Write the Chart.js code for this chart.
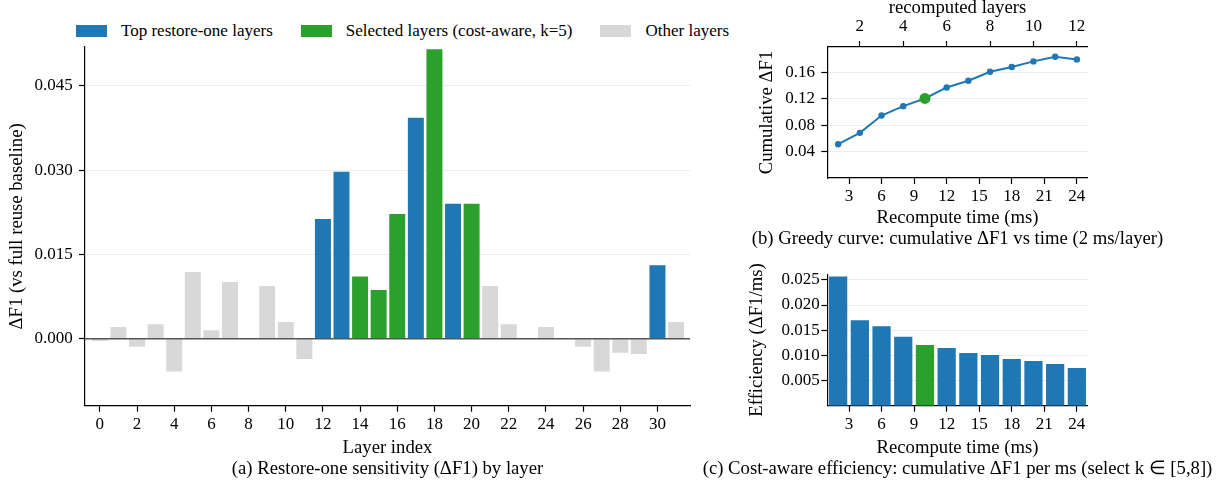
<!DOCTYPE html>
<html>
<head>
<meta charset="utf-8">
<script src="https://cdn.jsdelivr.net/npm/chart.js@4.4.1/dist/chart.umd.min.js"></script>
<style>
  body { margin: 0; background: #fff; width: 1223px; height: 486px; overflow: hidden; position: relative; font-family: 'Liberation Serif', 'Times New Roman', serif; }
  canvas { position: absolute; }
  #legend { position: absolute; left: 76px; top: 21px; display: flex; align-items: center; font-size: 17px; line-height: 20px; white-space: nowrap; color: #000; }
  .sw { display: inline-block; width: 31px; height: 12px; margin-right: 14px; }
  .lt { margin-right: 28px; }
</style>
</head>
<body>
<div id="legend"></div>
<canvas id="cA" width="775" height="486" style="left:0px;top:0px"></canvas>
<canvas id="cB" width="531" height="253" style="left:692px;top:-3px"></canvas>
<canvas id="cC" width="531" height="236" style="left:692px;top:250px"></canvas>
<script>
// (a) restore-one sensitivity per layer
const layers = [0,1,2,3,4,5,6,7,8,9,10,11,12,13,14,15,16,17,18,19,20,21,22,23,24,25,26,27,28,29,30,31]
const deltaF1 = [-0.0004, 0.0021, -0.0014, 0.0026, -0.0058, 0.0119, 0.0015, 0.0101, 0.0, 0.0094, 0.0030, -0.0036,
                 0.0213, 0.0297, 0.0111, 0.0087, 0.0222, 0.0393, 0.0515, 0.0240, 0.0240, 0.0094, 0.0026, 0.0,
                 0.0021, 0.0, -0.0014, -0.0058, -0.0025, -0.0027, 0.0131, 0.0030]
const topLayers = [12, 13, 17, 19, 30]
const selectedLayers = [14, 15, 16, 18, 20]
const layerTicks = [0,2,4,6,8,10,12,14,16,18,20,22,24,26,28,30]
const deltaTicks = [0, 0.015, 0.030, 0.045]

// (b) greedy curve and (c) efficiency
const timeMs = [2,4,6,8,10,12,14,16,18,20,22,24]
const cumDelta = [0.0512, 0.0684, 0.0947, 0.1089, 0.1205, 0.1372, 0.1473, 0.1610, 0.1681, 0.1767, 0.1838, 0.1797]
const efficiency = [0.02566, 0.01697, 0.01580, 0.01368, 0.01204, 0.01145, 0.01046, 0.01007, 0.00928, 0.00888, 0.00829, 0.00750]
const selectedK = 5
const timeTicks = [3,6,9,12,15,18,21,24]
const layerCountTicks = [2,4,6,8,10,12]
const cumTicks = [0.04, 0.08, 0.12, 0.16]
const effTicks = [0.005, 0.010, 0.015, 0.020, 0.025]

const legendLabels = ['Top restore-one layers', 'Selected layers (cost-aware, k=5)', 'Other layers']
const BLUE = '#1f77b4', GREEN = '#2ca02c', GREY = '#d8d8d8'
const legendColors = [BLUE, GREEN, GREY]

Chart.defaults.font.family = "'Liberation Serif', 'Times New Roman', serif"
Chart.defaults.color = '#000'

const TICK = 17, LABEL = 18.7
const faint = '#ececec'

// html legend
const lg = document.getElementById('legend')
legendLabels.forEach((lab, i) => {
    let sw = document.createElement('span')
    sw.className = 'sw'
    sw.style.background = legendColors[i]
    let tx = document.createElement('span')
    tx.className = 'lt'
    tx.innerText = lab
    lg.append(sw, tx)
})

function fixedTicks(list){
    return (s) => { s.ticks = list.map(v => ({value: v})) }
}

function spacer(w){
    return {
        axis: 'y', type: 'linear', position: 'right', display: true,
        grid: {display: false}, border: {display: false}, ticks: {display: false},
        afterFit: (s) => { s.width = w }
    }
}

function pointsFor(list){
    return list.map(l => ({x: l, y: deltaF1[layers.indexOf(l)]}))
}

const otherLayers = layers.filter(l => !topLayers.includes(l) && !selectedLayers.includes(l))

const zeroLine = {
    id: 'zeroLine',
    afterDatasetsDraw(chart){
        const y = chart.scales.y.getPixelForValue(0)
        const c = chart.ctx
        c.save()
        c.strokeStyle = '#555'
        c.lineWidth = 1.5
        c.beginPath()
        c.moveTo(chart.chartArea.left, y)
        c.lineTo(chart.chartArea.right, y)
        c.stroke()
        c.restore()
    }
}

const barOpts = {grouped: false, barPercentage: 0.86, categoryPercentage: 1, borderWidth: 0, xAxisID: 'x', yAxisID: 'y'}

new Chart(document.getElementById('cA'), {
    type: 'bar',
    data: {
        datasets: [
            Object.assign({label: legendLabels[0], data: pointsFor(topLayers), backgroundColor: BLUE}, barOpts),
            Object.assign({label: legendLabels[1], data: pointsFor(selectedLayers), backgroundColor: GREEN}, barOpts),
            Object.assign({label: legendLabels[2], data: pointsFor(otherLayers), backgroundColor: GREY}, barOpts)
        ]
    },
    options: {
        responsive: false,
        animation: false,
        layout: {padding: {top: 47}},
        plugins: {
            legend: {display: false},
            tooltip: {enabled: false},
            title: {display: true, position: 'bottom', text: '(a) Restore-one sensitivity (ΔF1) by layer',
                    font: {size: LABEL, lineHeight: 1, weight: 'normal'}, padding: {top: 0, bottom: 7.65}}
        },
        scales: {
            x: {
                type: 'linear', min: -0.8, max: 31.75, offset: false,
                afterBuildTicks: fixedTicks(layerTicks),
                afterFit: (s) => { s.height = 53.95 },
                ticks: {autoSkip: false, maxRotation: 0, padding: 3.1, font: {size: TICK, lineHeight: 1.2}, callback: v => String(v)},
                grid: {drawOnChartArea: false, offset: false, tickLength: 6, tickColor: '#000', tickWidth: 1.2},
                border: {color: '#000', width: 1.2},
                title: {display: true, text: 'Layer index', font: {size: LABEL, lineHeight: 1}, padding: {top: 0, bottom: 2.3}}
            },
            y: {
                type: 'linear', min: -0.0119, max: 0.0519,
                afterBuildTicks: fixedTicks(deltaTicks),
                afterFit: (s) => { s.width = 85 },
                ticks: {padding: 6.3, font: {size: TICK}, callback: v => v.toFixed(3)},
                grid: {color: faint, tickLength: 6, tickColor: '#000', tickWidth: 1.2},
                border: {color: '#000', width: 1.2},
                title: {display: true, text: 'ΔF1 (vs full reuse baseline)', font: {size: LABEL, lineHeight: 1}, padding: {top: 8.15, bottom: 0}}
            },
            r: spacer(85)
        }
    },
    plugins: [zeroLine]
})

// (b) greedy curve
const sel = selectedK - 1
new Chart(document.getElementById('cB'), {
    type: 'line',
    data: {
        datasets: [
            {
                label: 'selected', order: 0, xAxisID: 'x', yAxisID: 'y',
                data: [{x: timeMs[sel], y: cumDelta[sel]}],
                showLine: false, pointRadius: 5.5, pointBackgroundColor: GREEN, pointBorderWidth: 0
            },
            {
                label: 'cumulative', order: 1, xAxisID: 'x', yAxisID: 'y',
                data: timeMs.map((t, i) => ({x: t, y: cumDelta[i]})),
                borderColor: BLUE, borderWidth: 2, tension: 0,
                pointRadius: 3.2, pointBackgroundColor: BLUE, pointBorderWidth: 0
            }
        ]
    },
    options: {
        responsive: false,
        animation: false,
        layout: {padding: 0},
        plugins: {
            legend: {display: false},
            tooltip: {enabled: false},
            title: {display: true, position: 'bottom', text: '(b) Greedy curve: cumulative ΔF1 vs time (2 ms/layer)',
                    font: {size: LABEL, lineHeight: 1, weight: 'normal'}, padding: {top: 0, bottom: 1.65}}
        },
        scales: {
            x: {
                type: 'linear', position: 'bottom', min: 1.0, max: 25.0,
                afterBuildTicks: fixedTicks(timeTicks),
                afterFit: (s) => { s.height = 51.65 },
                ticks: {autoSkip: false, maxRotation: 0, padding: 2.8, font: {size: TICK, lineHeight: 1.2}, callback: v => String(v)},
                grid: {drawOnChartArea: false, tickLength: 6, tickColor: '#000', tickWidth: 1.2},
                border: {color: '#000', width: 1.2},
                title: {display: true, text: 'Recompute time (ms)', font: {size: LABEL, lineHeight: 1}, padding: {top: 0, bottom: 2.3}}
            },
            x2: {
                axis: 'x', type: 'linear', position: 'top', min: 0.5, max: 12.5,
                afterBuildTicks: fixedTicks(layerCountTicks),
                afterFit: (s) => { s.height = 50 },
                ticks: {autoSkip: false, maxRotation: 0, padding: 3.8, font: {size: TICK, lineHeight: 1.2}, callback: v => String(v)},
                grid: {drawOnChartArea: false, tickLength: 6, tickColor: '#000', tickWidth: 1.2},
                border: {color: '#000', width: 1.2},
                title: {display: true, text: 'recomputed layers', font: {size: LABEL, lineHeight: 1}, padding: {top: 2.2, bottom: 0}}
            },
            y: {
                type: 'linear', min: 0, max: 0.1985,
                afterBuildTicks: fixedTicks(cumTicks),
                afterFit: (s) => { s.width = 135.3 },
                ticks: {padding: 6.3, font: {size: TICK}, callback: v => v.toFixed(2)},
                grid: {color: faint, tickLength: 6, tickColor: '#000', tickWidth: 1.2},
                border: {color: '#000', width: 1.2},
                title: {display: true, text: 'Cumulative ΔF1', font: {size: LABEL, lineHeight: 1}, padding: {top: 66.15, bottom: 0}}
            },
            r: spacer(135.3)
        }
    }
})

// (c) efficiency bars
new Chart(document.getElementById('cC'), {
    type: 'bar',
    data: {
        datasets: [{
            label: 'efficiency', xAxisID: 'x', yAxisID: 'y',
            data: timeMs.map((t, i) => ({x: t, y: efficiency[i]})),
            backgroundColor: timeMs.map((t, i) => i === sel ? GREEN : BLUE),
            barPercentage: 0.84, categoryPercentage: 1, borderWidth: 0
        }]
    },
    options: {
        responsive: false,
        animation: false,
        layout: {padding: {top: 24.3}},
        plugins: {
            legend: {display: false},
            tooltip: {enabled: false},
            title: {display: true, position: 'bottom', text: '(c) Cost-aware efficiency: cumulative ΔF1 per ms (select k ∈ [5,8])',
                    font: {size: LABEL, lineHeight: 1, weight: 'normal'}, padding: {top: 0, bottom: 7.65}}
        },
        scales: {
            x: {
                type: 'linear', min: 1.0, max: 25.0, offset: false,
                afterBuildTicks: fixedTicks(timeTicks),
                afterFit: (s) => { s.height = 53.95 },
                ticks: {autoSkip: false, maxRotation: 0, padding: 3.1, font: {size: TICK, lineHeight: 1.2}, callback: v => String(v)},
                grid: {drawOnChartArea: false, offset: false, tickLength: 6, tickColor: '#000', tickWidth: 1.2},
                border: {color: '#000', width: 1.2},
                title: {display: true, text: 'Recompute time (ms)', font: {size: LABEL, lineHeight: 1}, padding: {top: 0, bottom: 2.3}}
            },
            y: {
                type: 'linear', min: 0, max: 0.0261,
                afterBuildTicks: fixedTicks(effTicks),
                afterFit: (s) => { s.width = 135.3 },
                ticks: {padding: 1.5, font: {size: TICK}, callback: v => v.toFixed(3)},
                grid: {color: faint, tickLength: 6, tickColor: '#000', tickWidth: 1.2},
                border: {color: '#000', width: 1.2},
                title: {display: true, text: 'Efficiency (ΔF1/ms)', font: {size: LABEL, lineHeight: 1}, padding: {top: 56.15, bottom: 0}}
            },
            r: spacer(135.3)
        }
    }
})
</script>
</body>
</html>
